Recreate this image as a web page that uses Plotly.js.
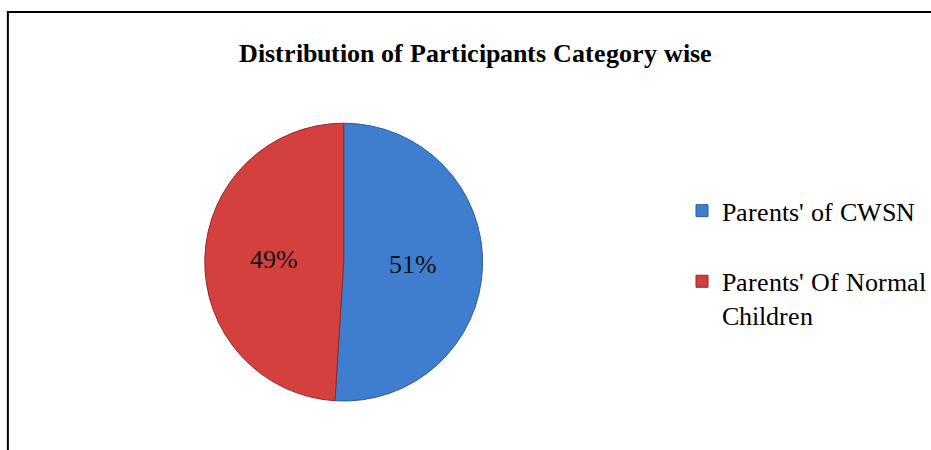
<!DOCTYPE html>
<html>
<head>
<meta charset="utf-8">
<script src="https://cdn.plot.ly/plotly-3.0.1.min.js"></script>
<style>
@font-face { font-family: 'LSerif'; src: local('Liberation Serif'), local('LiberationSerif'), local('LiberationSerif-Regular'); font-weight: 400; font-style: normal; }
@font-face { font-family: 'LSerif'; src: local('Liberation Serif Bold'), local('LiberationSerif-Bold'); font-weight: 700; font-style: normal; }
html,body{margin:0;padding:0;background:#fff;font-family:'LSerif','Liberation Serif',serif;}
#chart{width:931px;height:450px;}
</style>
</head>
<body>
<div id="chart"></div>
<script>
const chartTitle = "Distribution of Participants Category wise";
const categories = ["Parents' of CWSN<br> ", "Parents' Of Normal<br>Children"];
const shares = [51, 49];
const sliceColors = ["#3f7ecf", "#d3403e"];
const sliceEdges = ["#2a5c9c", "#8e2a28"];

const serif = "LSerif, Liberation Serif, Times New Roman, serif";

const data = [{
  type: "pie",
  labels: categories,
  values: shares,
  sort: false,
  direction: "clockwise",
  rotation: 0,
  marker: {colors: sliceColors, line: {color: sliceEdges, width: 1}},
  textinfo: "percent",
  texttemplate: "%{percent:.0%}",
  textposition: "inside",
  insidetextorientation: "horizontal",
  textfont: {family: serif, size: 26, color: "#111"},
  domain: {x: [0.2233, 0.5263], y: [0.096, 0.739]},
  hoverinfo: "label+percent"
}];

const layout = {
  width: 931, height: 450,
  margin: {l: 0, r: 0, t: 0, b: 0},
  paper_bgcolor: "#ffffff",
  font: {family: serif, color: "#000"},
  title: {text: "<b>" + chartTitle + "</b>", font: {family: serif, size: 26, color: "#000"}, x: 0.511, xanchor: "center", y: 0.883, yanchor: "middle"},
  showlegend: true,
  legend: {
    x: 0.744, xanchor: "left", y: 0.415, yanchor: "middle",
    font: {family: serif, size: 26, color: "#000"},
    valign: "top", bgcolor: "rgba(0,0,0,0)"
  },
  shapes: [{
    type: "rect", xref: "paper", yref: "paper",
    x0: 8/931, x1: 1.02, y0: -0.02, y1: (450-12)/450,
    line: {color: "#000", width: 2}, fillcolor: "rgba(0,0,0,0)"
  }]
};

Plotly.newPlot("chart", data, layout, {displayModeBar: false, staticPlot: true});
</script>
</body>
</html>
